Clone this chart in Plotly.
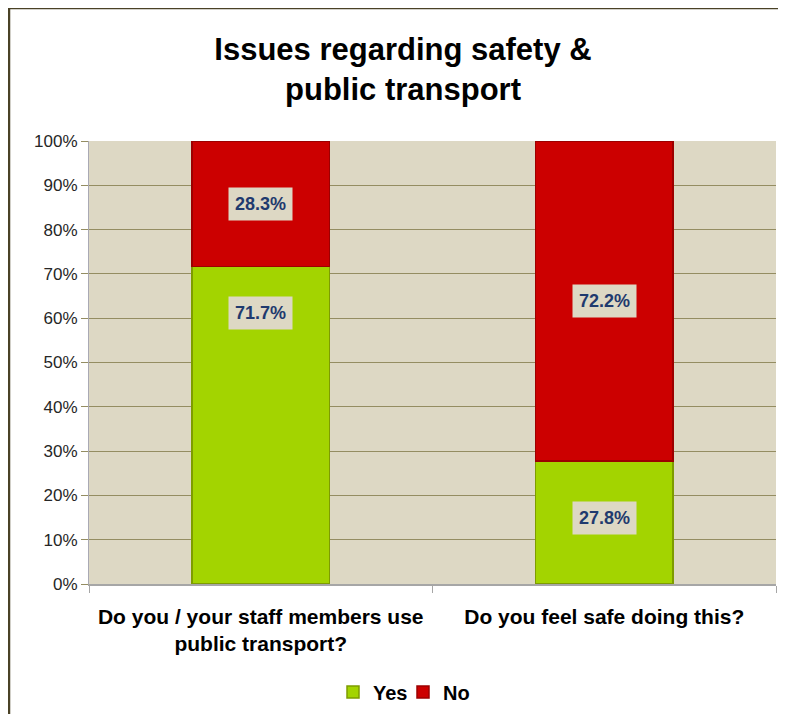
import plotly.graph_objects as go

categories = ["Do you / your staff members use<br>public transport?", "Do you feel safe doing this?"]
yes_values = [71.7, 27.8]
no_values = [28.3, 72.2]
yes_label_y = [61.2, 15.0]
no_label_y = [85.8, 63.9]
tick_vals = [0, 10, 20, 30, 40, 50, 60, 70, 80, 90, 100]
tick_text = [f"{v}%" for v in tick_vals]

# page is offset by the 8px body margin
OFF = 8
W, H = 786 - 2 * OFF, 722 - 2 * OFF
ml, mt = 89 - OFF, 141 - OFF
mr = W - (776 - OFF)
mb = H - (584 - OFF)
pw, ph = W - ml - mr, H - mt - mb

def px_x(px):
    return (px - OFF - ml) / pw

def px_y(py):
    return (mt + ph - (py - OFF)) / ph

fig = go.Figure()
fig.add_trace(go.Bar(x=categories, y=yes_values, name="<b>Yes</b>",
                     marker=dict(color="#a3d400", line=dict(color="#7e9c00", width=1.5))))
fig.add_trace(go.Bar(x=categories, y=no_values, name="<b>No</b>",
                     marker=dict(color="#cc0000", line=dict(color="#9c0000", width=1.5))))

font_fam = "Liberation Sans, Arial, sans-serif"
ann = []
for c, v, yl in zip(categories, yes_values, yes_label_y):
    ann.append(dict(x=c, y=yl, text=f"<b>{v:.1f}%</b>", showarrow=False,
                    font=dict(family=font_fam, size=18, color="#1f3a6e"),
                    bgcolor="#ddd8c4", borderpad=6))
for c, v, yl in zip(categories, no_values, no_label_y):
    ann.append(dict(x=c, y=yl, text=f"<b>{v:.1f}%</b>", showarrow=False,
                    font=dict(family=font_fam, size=18, color="#1f3a6e"),
                    bgcolor="#ddd8c4", borderpad=6))

fig.update_layout(
    width=W, height=H,
    margin=dict(l=ml, r=mr, t=mt, b=mb),
    paper_bgcolor="white",
    plot_bgcolor="#ddd8c4",
    barmode="stack",
    bargap=0.6,
    title=dict(text="<b>Issues regarding safety &<br>public transport</b>",
               x=px_x(403), xref="paper", xanchor="center",
               y=1 - (60 - OFF) / H, yanchor="middle",
               font=dict(family=font_fam, size=31, color="black")),
    font=dict(family=font_fam),
    showlegend=True,
    legend=dict(orientation="h", x=px_x(403), xanchor="center",
                y=px_y(692), yanchor="middle",
                font=dict(family=font_fam, size=20, color="black"),
                traceorder="normal", itemwidth=30, entrywidth=25,
                bgcolor="rgba(0,0,0,0)"),
    annotations=ann,
    shapes=[
        dict(type="line", xref="paper", yref="paper", x0=px_x(8), x1=px_x(790),
             y0=px_y(8), y1=px_y(8), line=dict(color="#4a4226", width=2.5)),
        dict(type="line", xref="paper", yref="paper", x0=px_x(9), x1=px_x(9),
             y0=px_y(7), y1=px_y(730), line=dict(color="#4a4226", width=2.5)),
    ],
)

fig.update_yaxes(range=[0, 100], tickvals=tick_vals, ticktext=tick_text,
                 showgrid=True, gridcolor="#948d62", gridwidth=1,
                 showline=True, linecolor="#a9a9b4", linewidth=1,
                 ticks="outside", ticklen=7, tickcolor="#948d62",
                 tickfont=dict(family=font_fam, size=17, color="#262626"),
                 zeroline=False)
fig.update_xaxes(showline=True, linecolor="#a6a6a6", linewidth=1.5,
                 ticks="outside", tickson="boundaries", ticklen=7, tickcolor="#a6a6a6",
                 tickfont=dict(family=font_fam, size=21, color="black"),
                 ticklabelstandoff=13,
                 tickvals=categories,
                 ticktext=["<b>" + c.replace("<br>", "</b><br><b>") + "</b>" for c in categories])

fig.write_html("out.html")
